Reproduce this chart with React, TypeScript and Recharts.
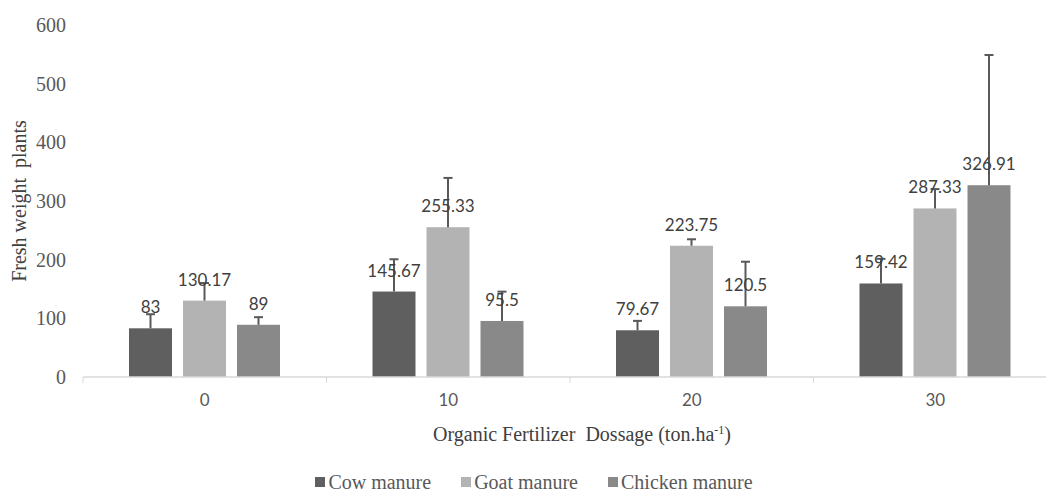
import React from 'react';
import { BarChart, Bar, XAxis, YAxis, LabelList, Legend, Label } from 'recharts';

const categories = ['0', '10', '20', '30'];
const cowManure = [83, 145.67, 79.67, 159.42];
const goatManure = [130.17, 255.33, 223.75, 287.33];
const chickenManure = [89, 95.5, 120.5, 326.91];
// upper error bar lengths (only the plus side is drawn)
const cowErr = [24, 55, 16, 42];
const goatErr = [30, 84, 11, 33];
const chickenErr = [13, 50, 76, 222];
const yTicks = [0, 100, 200, 300, 400, 500, 600];

const series = [
  { key: 'cow', err: 'cowErr', name: 'Cow manure', color: '#5f5f5f' },
  { key: 'goat', err: 'goatErr', name: 'Goat manure', color: '#b3b3b3' },
  { key: 'chicken', err: 'chickenErr', name: 'Chicken manure', color: '#898989' },
];

const data = categories.map((dose, i) => ({
  dose,
  cow: cowManure[i],
  goat: goatManure[i],
  chicken: chickenManure[i],
  cowErr: cowErr[i],
  goatErr: goatErr[i],
  chickenErr: chickenErr[i],
}));

const TICK_SIZE = 6;
const serif = '"Liberation Serif", "Times New Roman", serif';
const sans = 'Lato, "Open Sans", sans-serif';

// bar + plus-only error bar, scaled from the bar's own pixel height
const BarWithError = (props: any) => {
  const { x, y, width, height, fill, payload, dataKey, errKey } = props;
  const value = payload[dataKey];
  const err = payload[errKey];
  const top = value ? y - (err * height) / value : y;
  const cx = x + width / 2;
  return (
    <g>
      <rect x={x} y={y} width={width} height={height} fill={fill} />
      <line x1={cx} x2={cx} y1={y} y2={top} stroke="#595959" strokeWidth={2} />
      <line x1={cx - 4.5} x2={cx + 4.5} y1={top} y2={top} stroke="#595959" strokeWidth={2} />
    </g>
  );
};

// category label in the middle, tick marks on the category boundaries
const DoseTick = (props: any) => {
  const { x, y, payload, width, visibleTicksCount, index } = props;
  const band = width && visibleTicksCount ? width / visibleTicksCount : 0;
  const axisY = y - TICK_SIZE;
  return (
    <g>
      {band > 0 && (
        <line x1={x - band / 2} x2={x - band / 2} y1={axisY} y2={axisY + TICK_SIZE} stroke="#d9d9d9" />
      )}
      {band > 0 && index === visibleTicksCount - 1 && (
        <line x1={x + band / 2} x2={x + band / 2} y1={axisY} y2={axisY + TICK_SIZE} stroke="#d9d9d9" />
      )}
      <text x={x} y={y + 23} textAnchor="middle" fill="#595959" fontSize={17} fontFamily={sans}>
        {payload.value}
      </text>
    </g>
  );
};

const LegendContent = () => (
  <div
    style={{
      display: 'flex',
      justifyContent: 'center',
      height: 20,
      lineHeight: '20px',
      fontFamily: serif,
      fontSize: 20,
      color: '#595959',
    }}
  >
    {series.map((s) => (
      <span key={s.key} style={{ display: 'flex', alignItems: 'center', margin: '0 15px' }}>
        <span style={{ width: 10, height: 10, background: s.color, marginRight: 3 }} />
        {s.name}
      </span>
    ))}
  </div>
);

export default function App() {
  return (
    <div style={{ position: 'absolute', left: 0, top: 0, width: 1046, height: 493, overflow: 'hidden', background: '#fff' }}>
      <BarChart
        width={1060}
        height={493}
        data={data}
        margin={{ top: 25, right: 3, left: 0, bottom: 16 }}
        barCategoryGap={46}
        barGap={11}
      >
        <XAxis
          dataKey="dose"
          height={80}
          axisLine={{ stroke: '#d9d9d9', strokeWidth: 1.5 }}
          tickLine={false}
          tickSize={TICK_SIZE}
          tickMargin={0}
          tick={<DoseTick />}
          interval={0}
        >
          <Label
            content={({ viewBox }: any) => (
              <text
                x={viewBox.x + viewBox.width / 2 + 12}
                y={viewBox.y + 64}
                textAnchor="middle"
                fill="#404040"
                fontSize={20}
                fontFamily={serif}
              >
                Organic Fertilizer&#160; Dossage (ton.ha
                <tspan baselineShift="super" fontSize={12}>-1</tspan>)
              </text>
            )}
          />
        </XAxis>
        <YAxis
          width={83}
          domain={[0, 600]}
          ticks={yTicks}
          axisLine={false}
          tickLine={false}
          tickMargin={11}
          tick={{ fill: '#595959', fontSize: 20, fontFamily: serif }}
        >
          <Label
            content={({ viewBox }: any) => (
              <text
                x={19}
                y={viewBox.y + viewBox.height / 2}
                transform={`rotate(-90, 19, ${viewBox.y + viewBox.height / 2})`}
                textAnchor="middle"
                dominantBaseline="central"
                fill="#404040"
                fontSize={20}
                fontFamily={serif}
              >
                Fresh weight&#160; plants
              </text>
            )}
          />
        </YAxis>
        <Legend content={<LegendContent />} wrapperStyle={{ top: 472, left: 0, width: 1068 }} />
        {series.map((s) => (
          <Bar
            key={s.key}
            dataKey={s.key}
            name={s.name}
            fill={s.color}
            isAnimationActive={false}
            shape={(p: any) => <BarWithError {...p} dataKey={s.key} errKey={s.err} />}
          >
            <LabelList dataKey={s.key} position="top" offset={15} fill="#404040" fontSize={17} fontFamily={sans} />
          </Bar>
        ))}
      </BarChart>
    </div>
  );
}
